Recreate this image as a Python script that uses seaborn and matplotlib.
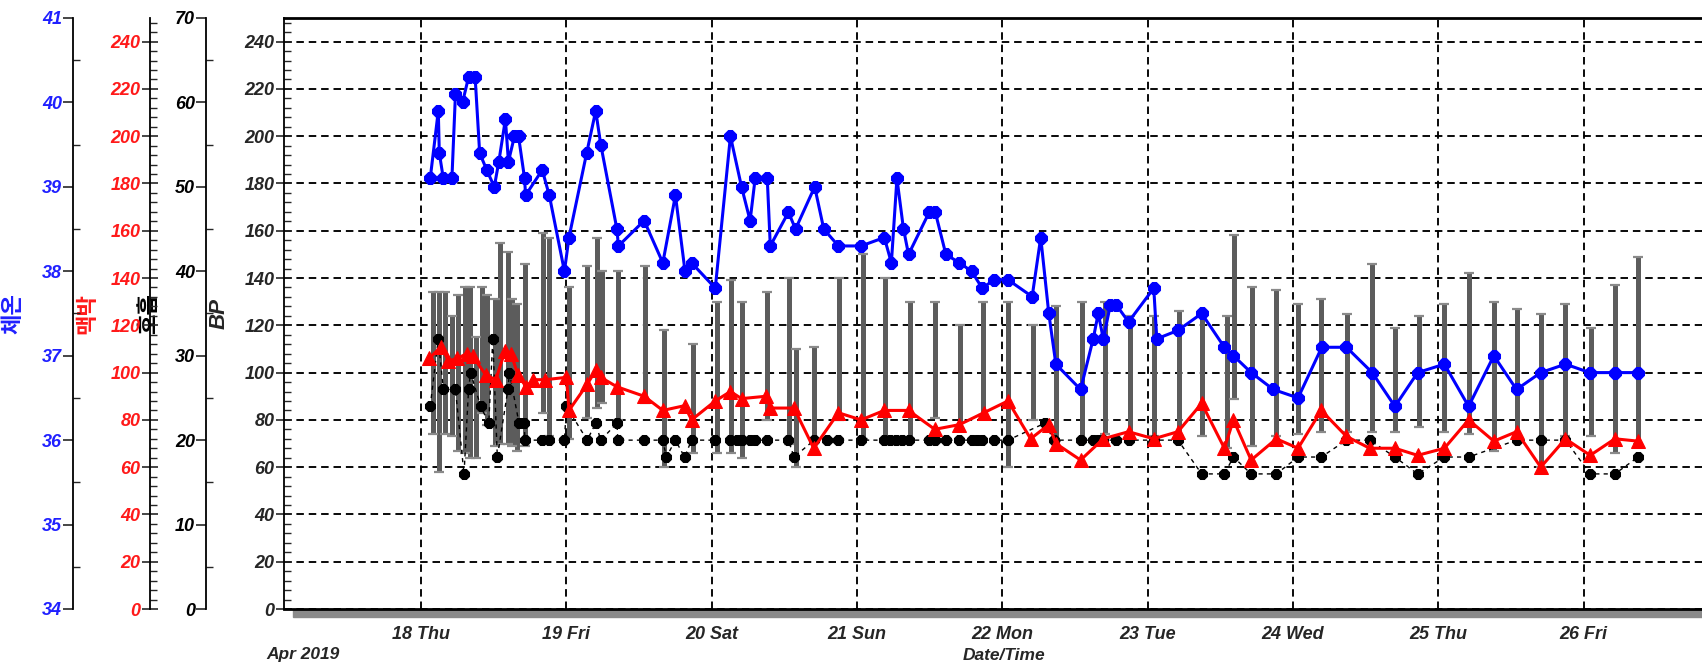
import numpy as np
import pandas as pd
import matplotlib
matplotlib.use("Agg")
import matplotlib.pyplot as plt
import matplotlib.dates as mdates
from matplotlib.ticker import MultipleLocator
from matplotlib.patches import Rectangle
import seaborn as sns

sns.set_style("white")
plt.rcParams['font.family'] = ['Liberation Sans', 'Noto Sans CJK KR', 'DejaVu Sans']
plt.rcParams['font.weight'] = 'bold'
plt.rcParams['font.style'] = 'italic'

# ---- data (day-of-April hh:mm) ----
temp_times = ["18 01:30","18 02:50","18 03:00","18 03:40","18 05:05","18 05:40","18 06:50","18 07:50",
              "18 08:55","18 09:40","18 10:50","18 12:05","18 12:50","18 13:55","18 14:25","18 15:25",
              "18 16:05","18 17:05","18 17:15","18 20:00","18 21:10","18 23:40",
              "19 00:25","19 03:20","19 04:50","19 05:40","19 08:20","19 08:35","19 12:50","19 15:55",
              "19 18:00","19 19:35","19 20:40",
              "20 00:35","20 03:05","20 04:55","20 06:20","20 07:10","20 09:10","20 09:40","20 12:40",
              "20 13:50","20 17:00","20 18:30","20 20:55",
              "21 00:40","21 04:30","21 05:40","21 06:35","21 07:40","21 08:30","21 11:55","21 12:55",
              "21 14:40","21 16:55","21 18:55","21 20:40","21 22:40",
              "22 00:55","22 04:55","22 06:20","22 07:40","22 08:50","22 12:55","22 15:00","22 15:50",
              "22 16:40","22 17:50","22 18:50","22 20:50",
              "23 01:00","23 01:30","23 05:00","23 08:55","23 12:40","23 14:10","23 17:05","23 20:45",
              "24 00:50","24 04:45","24 08:50","24 13:05","24 16:50","24 20:35",
              "25 01:00","25 05:00","25 09:10","25 12:55","25 16:55","25 21:00",
              "26 01:00","26 05:10","26 09:00"]
temp_vals = [39.1,39.9,39.4,39.1,39.1,40.1,40.0,40.3,40.3,39.4,39.2,39.0,39.3,39.8,39.3,39.6,
             39.6,39.1,38.9,39.2,38.9,38.0,
             38.4,39.4,39.9,39.5,38.5,38.3,38.6,38.1,38.9,38.0,38.1,
             37.8,39.6,39.0,38.6,39.1,39.1,38.3,38.7,38.5,39.0,38.5,38.3,
             38.3,38.4,38.1,39.1,38.5,38.2,38.7,38.7,38.2,38.1,38.0,37.8,37.9,
             37.9,37.7,38.4,37.5,36.9,36.6,37.2,37.5,37.2,37.6,37.6,37.4,
             37.8,37.2,37.3,37.5,37.1,37.0,36.8,36.6,
             36.5,37.1,37.1,36.8,36.4,36.8,
             36.9,36.4,37.0,36.6,36.8,36.9,
             36.8,36.8,36.8]

pulse_times = ["18 01:20","18 03:20","18 04:30","18 06:00","18 07:30","18 08:30","18 10:40","18 12:20",
               "18 13:50","18 14:50","18 16:00","18 17:20","18 18:30","18 20:30",
               "19 00:00","19 00:25","19 03:25","19 04:50","19 05:40","19 08:20","19 12:50","19 15:55",
               "19 19:30","19 20:40",
               "20 00:35","20 03:05","20 04:55","20 09:00","20 09:40","20 13:35","20 16:50","20 20:55",
               "21 00:40","21 04:30","21 08:30","21 12:50","21 16:55","21 20:55",
               "22 00:55","22 04:40","22 07:40","22 08:50","22 12:55","22 16:40","22 20:50",
               "23 01:00","23 05:00","23 08:55","23 12:40","23 14:10","23 17:05","23 21:15",
               "24 00:50","24 04:40","24 08:50","24 12:40","24 16:50","24 20:35",
               "25 01:00","25 05:00","25 09:10","25 12:55","25 16:55","25 21:00",
               "26 01:05","26 05:10","26 09:00"]
pulse_vals = [106,111,105,106,108,107,99,97,109,108,99,94,97,97,
              98,84,95,101,98,94,90,84,86,80,
              88,92,89,90,85,85,68,83,
              80,84,84,76,78,83,
              88,72,78,70,63,72,75,
              72,75,87,68,80,63,72,
              68,84,73,68,68,65,
              68,80,71,75,60,72,
              65,72,71]

resp_times = ["18 01:30","18 02:50","18 03:40","18 05:40","18 07:05","18 07:50","18 08:10","18 09:50",
              "18 11:10","18 11:50","18 12:35","18 14:20","18 14:35","18 16:10","18 17:00","18 17:10",
              "18 20:00","18 21:10","18 23:40",
              "19 00:00","19 03:25","19 04:50","19 05:40","19 08:20","19 08:30","19 12:50","19 15:55",
              "19 16:30","19 18:00","19 19:30","19 20:40",
              "20 00:35","20 03:05","20 04:10","20 04:55","20 06:20","20 07:10","20 09:10","20 12:40",
              "20 13:35","20 16:55","20 19:00","20 20:55",
              "21 00:40","21 04:30","21 05:25","21 06:25","21 07:25","21 08:30","21 11:55","21 12:55",
              "21 14:40","21 16:55","21 18:55","21 19:50","21 20:40","21 22:40",
              "22 00:55","22 07:00","22 08:30","22 12:55","22 15:00","22 15:50","22 16:40","22 18:50",
              "22 20:50",
              "23 01:00","23 05:00","23 08:55","23 12:40","23 14:10","23 17:05","23 21:15",
              "24 00:50","24 04:40","24 08:50","24 12:40","24 16:50","24 20:35",
              "25 01:00","25 05:00","25 12:55","25 16:55","25 21:00",
              "26 01:05","26 05:10","26 09:00"]
resp_vals = [24,32,26,26,16,26,28,24,22,32,18,26,28,22,22,20,20,20,20,
             24,20,22,20,22,20,20,20,18,20,18,20,
             20,20,20,20,20,20,20,20,18,20,20,20,
             20,20,20,20,20,20,20,20,20,20,20,20,20,20,
             20,22,20,20,20,20,20,20,20,
             20,20,16,16,18,16,16,
             18,18,20,20,18,16,
             18,18,20,20,20,
             16,16,18]

bp_times = ["18 01:55","18 02:55","18 04:00","18 05:05","18 06:05","18 07:10","18 08:00","18 09:00",
            "18 10:00","18 10:55","18 12:10","18 13:00","18 14:20","18 15:05","18 15:50","18 17:05",
            "18 20:05","18 21:10",
            "19 00:25","19 03:20","19 05:00","19 05:50","19 08:30","19 12:55","19 16:05","19 20:50",
            "20 00:50","20 03:10","20 04:55","20 09:10","20 12:50","20 13:50","20 16:55","20 21:00",
            "21 00:55","21 04:40","21 08:40","21 12:55","21 17:00","21 20:50",
            "22 01:00","22 05:00","22 08:55","22 13:05","22 16:55","22 21:00",
            "23 01:00","23 05:10","23 09:00","23 13:10","23 14:20","23 17:10","23 21:15",
            "24 00:50","24 04:40","24 08:55","24 13:00","24 16:50","24 20:50",
            "25 01:00","25 05:05","25 09:10","25 13:00","25 17:00","25 21:00",
            "26 01:15","26 05:10","26 09:00"]
bp_sys = [134,134,134,124,133,136,136,115,136,133,131,155,151,131,129,146,159,157,
          136,145,157,143,143,145,118,112,
          130,139,130,134,140,110,111,140,
          150,140,130,130,120,130,
          130,120,128,130,130,124,
          124,126,126,124,158,136,135,
          129,131,125,146,119,124,
          129,142,130,127,125,129,
          119,137,149]
bp_dia = [74,58,74,73,67,66,64,64,83,78,69,70,70,69,67,69,83,73,
          72,81,85,87,80,87,60,66,
          66,66,64,80,70,60,71,80,
          72,72,72,81,76,82,
          60,80,71,72,74,73,
          73,73,73,68,89,69,73,
          74,75,75,75,75,77,
          75,74,67,73,60,73,
          73,66,70]


def to_dt(lst):
    return pd.to_datetime(['2019-04-' + s for s in lst])


W, H = 1702, 664
fig = plt.figure(figsize=(W / 100, H / 100), dpi=100)
left_px, right_px, top_px, bot_px = 284, 1801.6, 18, 609
axw = right_px - left_px
ax = fig.add_axes([left_px / W, (H - bot_px) / H, axw / W, (bot_px - top_px) / H])

# BP range bars
bt = to_dt(bp_times)
ax.vlines(bt, bp_dia, bp_sys, color='#5c5c5c', linewidth=3.6, zorder=2)
ax.scatter(bt, bp_sys, marker='_', s=45, color='#8a8a8a', linewidths=1.6, zorder=3)
ax.scatter(bt, bp_dia, marker='_', s=45, color='#8a8a8a', linewidths=1.6, zorder=3)

ax.set_ylim(0, 250)
ax.yaxis.set_major_locator(MultipleLocator(20))
ax.yaxis.set_minor_locator(MultipleLocator(4))
ax.set_yticks(np.arange(0, 241, 20))
ax.tick_params(axis='y', which='major', direction='inout', length=12, width=1.2, labelsize=13, pad=1)
ax.tick_params(axis='y', which='minor', direction='in', length=5, width=1)
ax.set_ylabel('BP', fontsize=16, fontweight='heavy', fontstyle='italic', family='Liberation Sans')
ax.yaxis.set_label_coords((230 - left_px) / axw, 0.5)

ax.grid(True, which='major', axis='both', color='black', linestyle=(0, (4, 2.6)), linewidth=1.35)
ax.set_axisbelow(True)
for s in ['top', 'bottom']:
    ax.spines[s].set_linewidth(2)
    ax.spines[s].set_color('black')
ax.spines['left'].set_linewidth(1.3)
ax.spines['left'].set_color('black')
ax.spines['right'].set_visible(False)


def side_axis(spine_px, lim, major, minor, color, label, label_px, tdir):
    t = ax.twinx()
    t.set_ylim(*lim)
    for s in ['top', 'bottom', 'right']:
        t.spines[s].set_visible(False)
    t.spines['left'].set_visible(True)
    t.spines['left'].set_position(('axes', (spine_px - left_px) / axw))
    t.spines['left'].set_linewidth(1.3)
    t.spines['left'].set_color('black')
    t.yaxis.set_ticks_position('left')
    t.yaxis.set_label_position('left')
    t.yaxis.set_major_locator(MultipleLocator(major))
    t.yaxis.set_minor_locator(MultipleLocator(minor))
    t.tick_params(axis='y', which='major', direction=tdir, length=12 if tdir == 'inout' else 7,
                  width=1.2, labelsize=13, labelcolor=color, pad=1)
    t.tick_params(axis='y', which='minor', direction='in', length=5, width=1)
    t.set_ylabel(label, color=color, fontsize=16, fontweight='bold', fontstyle='normal',
                 family=['Noto Sans CJK KR', 'DejaVu Sans'])
    t.yaxis.set_label_coords((label_px - left_px) / axw, 0.5)
    t.grid(False)
    return t


ax_resp = side_axis(206, (0, 70), 10, 5, 'black', '호흡', 160, 'out')
ax_pulse = side_axis(150, (0, 250), 20, 4, '#ff1a1a', '맥박', 98, 'inout')
ax_pulse.set_yticks(np.arange(0, 241, 20))
ax_temp = side_axis(73, (34, 41), 1, 0.5, '#2020ff', '체온', 24, 'out')

sns.lineplot(x=to_dt(resp_times), y=resp_vals, ax=ax_resp, estimator=None, color='black',
             linewidth=1, linestyle=(0, (3, 3)), marker='8', markersize=8.5,
             markeredgecolor='black', markerfacecolor='black', zorder=4)
sns.lineplot(x=to_dt(pulse_times), y=pulse_vals, ax=ax_pulse, estimator=None, color='#ff0000',
             linewidth=2.2, marker='^', markersize=10, markeredgecolor='#ff0000', zorder=5)
sns.lineplot(x=to_dt(temp_times), y=temp_vals, ax=ax_temp, estimator=None, color='#0000ff',
             linewidth=2.2, marker='8', markersize=9, markeredgecolor='#0000ff', zorder=6)
ax_resp.set_ylim(0, 70)
ax_pulse.set_ylim(0, 250)
ax_temp.set_ylim(34, 41)
for t in (ax_resp, ax_pulse, ax_temp):
    t.set_xlabel('')

ax.set_xlim(pd.Timestamp('2019-04-17 01:21'), pd.Timestamp('2019-04-27 12:00'))
ax.xaxis.set_major_locator(mdates.DayLocator())
ax.xaxis.set_major_formatter(mdates.DateFormatter('%d %a'))
ax.tick_params(axis='x', which='major', direction='inout', length=16, width=1.5, labelsize=13, pad=4)
ax.set_xlabel('')

# shadow band under the time axis
fig.patches.append(Rectangle((293 / W, (H - 617) / H), (W - 293) / W, 8 / H,
                             transform=fig.transFigure, color='#8a8a8a', zorder=-1))

fig.text(266 / W, (H - 655) / H, 'Apr 2019', fontsize=12.5, ha='left', va='center')
fig.text(1004 / W, (H - 655) / H, 'Date/Time', fontsize=12.5, ha='center', va='center')

fig.savefig('out.png', dpi=100)
